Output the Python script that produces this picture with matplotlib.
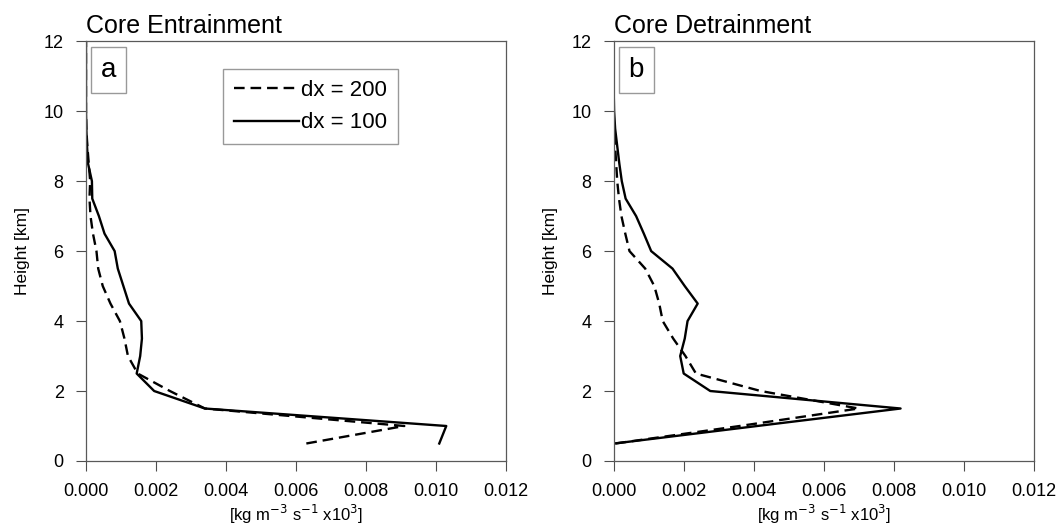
#!usr/bin/env python3

import matplotlib
matplotlib.use("Agg")
import matplotlib.pyplot as plt

plt.rcParams['font.family'] = ['Liberation Sans', 'DejaVu Sans']

# heights of the model levels [km]
heights = [0.5, 1.0, 1.5, 2.0, 2.5, 3.0, 3.5, 4.0, 4.5, 5.0, 5.5, 6.0,
           6.5, 7.0, 7.5, 8.0, 8.5, 9.0, 9.5, 10.0, 10.5, 11.0, 11.5, 12.0]

# core entrainment [kg m-3 s-1 x10^3]
ent_dx200 = [0.0063, 0.0091, 0.0034, 0.0024, 0.00148, 0.0012, 0.0011, 0.00097,
             0.0007, 0.00048, 0.00035, 0.0003, 0.0002, 0.00013, 0.0001, 0.00012,
             0.00008, 0.00004, 0.00001, 0.0, 0.0, 0.0, 0.0, 0.0]
ent_dx100 = [0.0101, 0.0103, 0.0034, 0.00195, 0.00145, 0.00155, 0.0016, 0.00158,
             0.00123, 0.00107, 0.00091, 0.00082, 0.00053, 0.00037, 0.00018, 0.00017,
             0.00006, 0.00003, 0.00001, 0.0, 0.0, 0.0, 0.0, 0.0]

# core detrainment [kg m-3 s-1 x10^3]
det_dx200 = [0.00005, 0.0036, 0.0070, 0.0042, 0.00235, 0.00205, 0.0017, 0.0014,
             0.0013, 0.00116, 0.0009, 0.00045, 0.00033, 0.00022, 0.00015, 0.0001,
             0.00007, 0.00004, 0.00001, 0.0, 0.0, 0.0, 0.0, 0.0]
det_dx100 = [0.00002, 0.0041, 0.0082, 0.00276, 0.002, 0.0019, 0.00203, 0.00211,
             0.0024, 0.00203, 0.00168, 0.00107, 0.00086, 0.00064, 0.00034, 0.00023,
             0.00016, 0.0001, 0.00004, 0.00001, 0.0, 0.0, 0.0, 0.0]

xticks = [0.000, 0.002, 0.004, 0.006, 0.008, 0.010, 0.012]
yticks = [0, 2, 4, 6, 8, 10, 12]


def panel(ax, title, letter, d200, d100, legend=False):
    ax.plot(d200, heights, color='black', lw=1.7, dashes=(4.5, 2.5), label='dx = 200')
    ax.plot(d100, heights, color='black', lw=1.7, label='dx = 100')
    ax.set_xlim(0, 0.012)
    ax.set_ylim(0, 12)
    ax.set_xticks(xticks)
    ax.set_xticklabels([f"{v:.3f}" for v in xticks])
    ax.set_yticks(yticks)
    ax.tick_params(direction='out', length=7, width=0.8, color='0.3',
                   labelsize=13, pad=9)
    for sp in ax.spines.values():
        sp.set_color('0.35')
        sp.set_linewidth(0.9)
    ax.set_title(title, loc='left', fontsize=18, pad=6)
    ax.set_xlabel(r"[kg m$^{-3}$ s$^{-1}$ x10$^{3}$]", fontsize=12, labelpad=2)
    ax.set_ylabel("Height [km]", fontsize=12.5, labelpad=10)
    ax.text(0.035, 0.962, letter, transform=ax.transAxes, ha='left', va='top',
            fontsize=20,
            bbox=dict(facecolor='white', edgecolor='0.6', boxstyle='square,pad=0.35'))
    if legend:
        ax.legend(loc='upper left', bbox_to_anchor=(0.30, 0.96), fontsize=16,
                  handlelength=2.9, handletextpad=0.1, fancybox=False,
                  edgecolor='0.6', framealpha=1, borderpad=0.5, labelspacing=0.5)


fig = plt.figure(figsize=(10.6, 5.32), dpi=100)
ax1 = fig.add_axes([0.0811, 0.1335, 0.396, 0.789])
ax2 = fig.add_axes([0.579, 0.1335, 0.396, 0.789])

panel(ax1, "Core Entrainment", "a", ent_dx200, ent_dx100, legend=True)
panel(ax2, "Core Detrainment", "b", det_dx200, det_dx100)

fig.savefig("out.png", dpi=100)
